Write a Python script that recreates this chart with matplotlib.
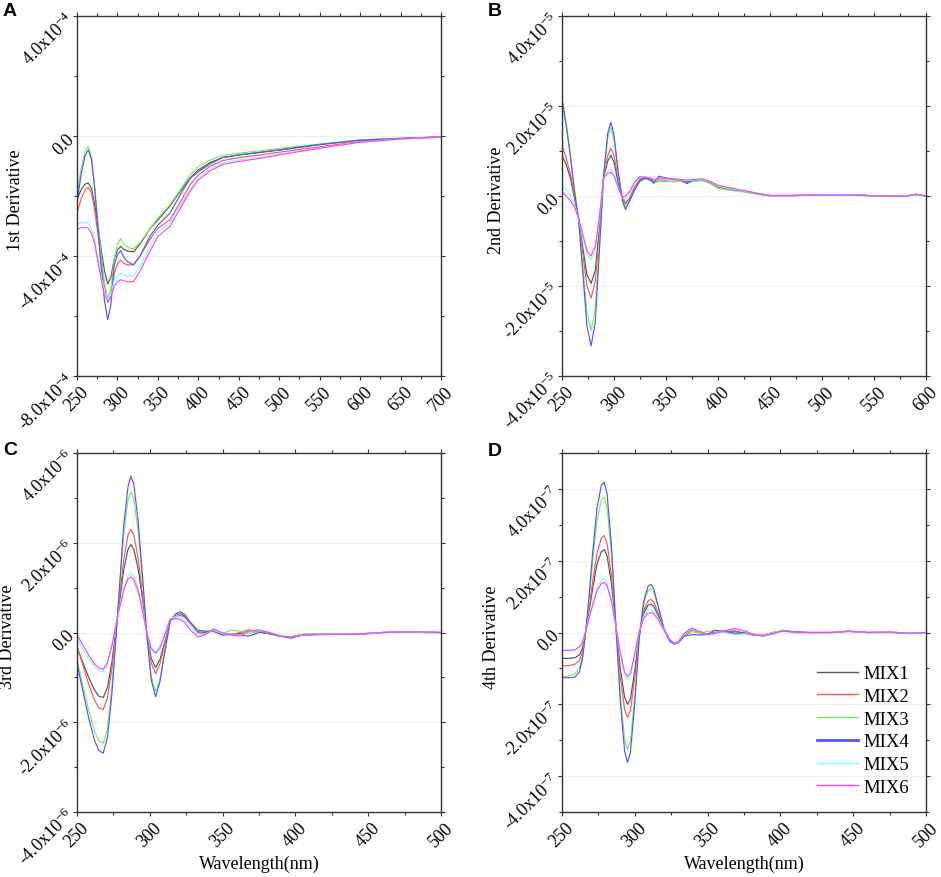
import matplotlib
matplotlib.use("Agg")
import matplotlib.pyplot as plt
from matplotlib.ticker import MultipleLocator, FixedLocator, FixedFormatter

plt.rcParams['font.family'] = ['Liberation Serif', 'DejaVu Serif']
plt.rcParams['mathtext.fontset'] = 'custom'
plt.rcParams['mathtext.rm'] = 'Liberation Serif'
plt.rcParams['mathtext.it'] = 'Liberation Serif:italic'
plt.rcParams['mathtext.default'] = 'regular'

SERIES = ["MIX1", "MIX2", "MIX3", "MIX4", "MIX5", "MIX6"]
COLORS = ["#555555", "#ff5555", "#77ee55", "#5555ff", "#77ffff", "#ff44ff"]

# ---------------- Panel A: 1st derivative (units 1e-4) ----------------
WL_A = [250, 255, 260, 264, 268, 272, 276, 280, 284, 288, 292, 296, 300, 304, 308, 313,
        320, 328, 340, 350, 365, 380, 390, 400, 415, 430, 450, 475, 500, 550, 600, 650, 700]
A_MIX1 = [-2.12, -1.8, -1.6, -1.57, -1.75, -2.3, -3.0, -3.8, -4.5, -4.93, -4.7, -4.1, -3.8, -3.68, -3.78, -3.84,
          -3.86, -3.6, -3.1, -2.8, -2.33, -1.75, -1.4, -1.13, -0.88, -0.72, -0.63, -0.55, -0.47, -0.29, -0.14, -0.08, -0.03]
A_MIX2 = [-2.57, -2.1, -1.8, -1.71, -1.9, -2.5, -3.3, -4.2, -5.0, -5.55, -5.3, -4.6, -4.25, -4.14, -4.25, -4.3,
          -4.29, -4.0, -3.45, -3.08, -2.79, -2.1, -1.62, -1.3, -1.0, -0.82, -0.72, -0.64, -0.54, -0.36, -0.18, -0.09, -0.04]
A_MIX3 = [-1.97, -1.1, -0.5, -0.35, -0.7, -1.7, -2.9, -4.0, -4.9, -5.4, -5.1, -4.1, -3.6, -3.42, -3.6, -3.72,
          -3.76, -3.55, -3.1, -2.74, -2.29, -1.7, -1.29, -1.02, -0.8, -0.65, -0.57, -0.5, -0.41, -0.27, -0.13, -0.07, -0.03]
A_MIX4 = [-2.23, -1.3, -0.65, -0.46, -0.8, -1.8, -3.1, -4.4, -5.5, -6.12, -5.6, -4.3, -3.95, -3.82, -4.05, -4.2,
          -4.29, -4.0, -3.35, -2.97, -2.57, -1.85, -1.4, -1.19, -0.92, -0.72, -0.63, -0.55, -0.46, -0.28, -0.14, -0.08, -0.03]
A_MIX5 = [-2.96, -2.9, -2.88, -2.92, -3.1, -3.5, -4.1, -4.7, -5.2, -5.46, -5.3, -4.8, -4.65, -4.59, -4.65, -4.68,
          -4.65, -4.35, -3.7, -3.2, -2.9, -2.2, -1.79, -1.4, -1.08, -0.9, -0.8, -0.72, -0.6, -0.4, -0.2, -0.1, -0.04]
A_MIX6 = [-3.12, -3.05, -3.05, -3.07, -3.25, -3.6, -4.2, -4.8, -5.3, -5.5, -5.35, -5.0, -4.85, -4.79, -4.83, -4.87,
          -4.85, -4.5, -3.85, -3.35, -3.01, -2.3, -1.84, -1.47, -1.15, -0.95, -0.85, -0.75, -0.63, -0.41, -0.21, -0.1, -0.04]

# ---------------- Panel B: 2nd derivative (units 1e-5) ----------------
WL_B = [250, 254, 258, 262, 266, 270, 274, 278, 282, 286, 290, 294, 297, 300, 304, 308, 311, 315, 320, 325,
        330, 335, 338, 343, 350, 357, 365, 370, 377, 385, 392, 400, 410, 425, 440, 450, 470, 500, 530, 560,
        580, 590, 600]
B_MIX1 = [0.9, 0.7, 0.4, -0.05, -0.5, -1.15, -1.75, -1.94, -1.65, -0.7, 0.4, 0.78, 0.9, 0.75, 0.3, -0.05, -0.18, -0.05, 0.2, 0.37,
          0.4, 0.35, 0.28, 0.34, 0.33, 0.32, 0.33, 0.28, 0.34, 0.35, 0.3, 0.2, 0.15, 0.1, 0.04, 0.01, 0.01, 0.02, 0.02, 0.0,
          0.0, 0.03, 0.0]
B_MIX2 = [1.12, 0.85, 0.5, 0.0, -0.5, -1.3, -2.0, -2.27, -1.9, -0.8, 0.4, 0.9, 1.06, 0.9, 0.4, 0.0, -0.16, -0.05, 0.2, 0.38,
          0.42, 0.38, 0.32, 0.38, 0.38, 0.36, 0.35, 0.33, 0.35, 0.36, 0.3, 0.2, 0.15, 0.1, 0.04, 0.01, 0.01, 0.02, 0.02, 0.0,
          -0.01, 0.04, 0.0]
B_MIX3 = [2.04, 1.55, 0.9, 0.15, -0.5, -1.55, -2.6, -2.99, -2.5, -1.05, 0.45, 1.3, 1.53, 1.25, 0.5, -0.08, -0.25, -0.1, 0.15, 0.33,
          0.38, 0.34, 0.28, 0.35, 0.33, 0.32, 0.32, 0.3, 0.33, 0.34, 0.28, 0.17, 0.13, 0.09, 0.03, 0.0, 0.01, 0.02, 0.01, 0.0,
          0.0, 0.02, 0.0]
B_MIX4 = [2.16, 1.6, 0.9, 0.1, -0.55, -1.7, -2.9, -3.33, -2.8, -1.2, 0.45, 1.4, 1.64, 1.35, 0.55, -0.1, -0.3, -0.12, 0.15, 0.33,
          0.4, 0.36, 0.3, 0.44, 0.4, 0.38, 0.36, 0.3, 0.36, 0.37, 0.32, 0.22, 0.17, 0.11, 0.05, 0.01, 0.01, 0.02, 0.02, 0.0,
          0.0, 0.03, 0.0]
B_MIX5 = [0.25, 0.15, 0.0, -0.2, -0.5, -0.9, -1.3, -1.41, -1.2, -0.5, 0.4, 0.55, 0.6, 0.5, 0.2, -0.05, -0.06, 0.05, 0.3, 0.42,
          0.42, 0.4, 0.35, 0.4, 0.38, 0.37, 0.36, 0.34, 0.36, 0.37, 0.32, 0.22, 0.17, 0.11, 0.05, 0.01, 0.01, 0.02, 0.02, 0.0,
          0.0, 0.03, 0.0]
B_MIX6 = [0.1, 0.0, -0.1, -0.25, -0.5, -0.85, -1.22, -1.33, -1.12, -0.45, 0.4, 0.5, 0.53, 0.45, 0.18, -0.03, 0.0, 0.1, 0.32, 0.43,
          0.42, 0.4, 0.36, 0.4, 0.39, 0.37, 0.37, 0.35, 0.37, 0.38, 0.33, 0.24, 0.19, 0.12, 0.05, 0.01, 0.01, 0.02, 0.02, 0.0,
          -0.01, 0.04, 0.0]

# ---------------- Panel C: 3rd derivative (units 1e-6) ----------------
WL_C = [250, 254, 258, 262, 265, 268, 271, 274, 278, 282, 285, 287, 289, 292, 295, 298, 301, 304, 307, 310,
        314, 318, 321, 324, 328, 333, 338, 344, 350, 356, 362, 368, 375, 382, 390, 397, 405, 415, 430, 445,
        460, 475, 490, 500]
C_MIX1 = [-0.33, -0.67, -1.0, -1.28, -1.42, -1.45, -1.22, -0.65, 0.38, 1.38, 1.85, 1.96, 1.86, 1.42, 0.75, -0.03, -0.58, -0.78, -0.6, -0.25,
          0.27, 0.4, 0.42, 0.36, 0.2, 0.02, 0.0, 0.05, -0.03, -0.04, -0.02, 0.02, 0.03, -0.02, -0.09, -0.1, -0.05, -0.04, -0.04, -0.03,
          0.0, 0.01, 0.0, 0.0]
C_MIX2 = [-0.3, -0.72, -1.15, -1.5, -1.68, -1.72, -1.45, -0.8, 0.4, 1.6, 2.17, 2.3, 2.18, 1.65, 0.85, -0.03, -0.68, -0.92, -0.7, -0.3,
          0.25, 0.36, 0.38, 0.34, 0.2, 0.0, -0.03, 0.07, -0.02, -0.05, 0.0, 0.06, 0.02, -0.03, -0.08, -0.1, -0.04, -0.04, -0.04, -0.03,
          0.0, 0.02, 0.01, 0.0]
C_MIX3 = [-0.62, -1.18, -1.73, -2.2, -2.42, -2.47, -2.13, -1.22, 0.45, 2.15, 2.95, 3.13, 2.98, 2.25, 1.13, -0.07, -0.98, -1.32, -1.02, -0.45,
          0.25, 0.41, 0.44, 0.39, 0.22, 0.04, 0.02, 0.05, -0.02, 0.05, 0.03, -0.02, 0.02, 0.0, -0.07, -0.14, -0.04, -0.03, -0.03, -0.03,
          0.0, 0.01, 0.0, -0.01]
C_MIX4 = [-0.7, -1.3, -1.9, -2.4, -2.63, -2.69, -2.33, -1.35, 0.45, 2.35, 3.24, 3.48, 3.31, 2.49, 1.25, -0.07, -1.06, -1.43, -1.1, -0.5,
          0.25, 0.42, 0.46, 0.4, 0.22, 0.05, 0.03, 0.02, -0.06, -0.04, -0.06, -0.08, 0.0, -0.02, -0.08, -0.12, -0.06, -0.05, -0.04, -0.04,
          0.0, 0.01, 0.01, 0.0]
C_MIX5 = [-0.15, -0.37, -0.58, -0.76, -0.85, -0.87, -0.7, -0.3, 0.38, 0.98, 1.26, 1.32, 1.26, 0.98, 0.52, -0.02, -0.38, -0.5, -0.38, -0.1,
          0.3, 0.35, 0.33, 0.28, 0.12, -0.05, -0.03, 0.05, -0.02, -0.05, -0.07, 0.02, 0.05, 0.0, -0.07, -0.1, -0.05, -0.04, -0.04, -0.03,
          0.0, 0.01, 0.01, 0.0]
C_MIX6 = [-0.05, -0.28, -0.5, -0.7, -0.79, -0.82, -0.66, -0.28, 0.38, 0.93, 1.19, 1.24, 1.18, 0.92, 0.48, -0.02, -0.35, -0.45, -0.33, -0.07,
          0.3, 0.31, 0.29, 0.22, 0.05, -0.1, -0.05, 0.08, -0.01, -0.06, -0.08, 0.03, 0.06, 0.0, -0.08, -0.1, -0.05, -0.04, -0.04, -0.03,
          0.0, 0.01, 0.01, 0.0]

# ---------------- Panel D: 4th derivative (units 1e-7) ----------------
WL_D = [250, 255, 259, 262, 264, 266, 268, 271, 274, 277, 279, 281, 284, 287, 290, 293, 295, 297, 300, 303,
        306, 309, 311, 313, 316, 320, 324, 327, 330, 334, 339, 345, 350, 355, 362, 369, 376, 382, 388, 395,
        402, 410, 420, 435, 447, 460, 475, 490, 500]
D_MIX1 = [-0.72, -0.72, -0.7, -0.62, -0.45, -0.02, 0.45, 1.2, 1.9, 2.25, 2.31, 2.13, 1.35, 0.18, -1.0, -1.8, -2.0, -1.85, -1.05, -0.05,
          0.52, 0.76, 0.79, 0.73, 0.48, 0.1, -0.2, -0.32, -0.28, -0.08, 0.08, 0.0, -0.04, 0.0, 0.04, 0.04, -0.02, -0.07, -0.08, 0.0,
          0.05, 0.01, 0.0, 0.0, 0.03, 0.0, 0.01, -0.03, 0.0]
D_MIX2 = [-0.93, -0.92, -0.88, -0.78, -0.55, -0.05, 0.5, 1.4, 2.2, 2.63, 2.7, 2.48, 1.57, 0.18, -1.2, -2.15, -2.37, -2.18, -1.25, -0.08,
          0.6, 0.88, 0.92, 0.85, 0.55, 0.12, -0.2, -0.32, -0.28, -0.1, 0.08, 0.0, -0.05, 0.0, 0.05, 0.03, -0.03, -0.08, -0.08, 0.0,
          0.06, 0.0, 0.0, 0.0, 0.03, 0.0, 0.01, -0.02, 0.0]
D_MIX3 = [-1.23, -1.21, -1.15, -0.98, -0.68, -0.1, 0.65, 1.95, 3.1, 3.68, 3.77, 3.47, 2.17, 0.2, -1.7, -2.98, -3.27, -3.02, -1.75, -0.15,
          0.78, 1.17, 1.22, 1.12, 0.7, 0.12, -0.22, -0.32, -0.28, -0.1, 0.02, -0.02, 0.03, 0.06, 0.0, -0.05, -0.03, -0.05, -0.08, 0.0,
          0.06, 0.02, -0.01, 0.0, 0.03, 0.0, 0.01, -0.02, 0.0]
D_MIX4 = [-1.26, -1.26, -1.24, -1.1, -0.75, -0.1, 0.75, 2.2, 3.45, 4.1, 4.19, 3.85, 2.4, 0.2, -1.9, -3.3, -3.62, -3.35, -1.95, -0.2,
          0.85, 1.28, 1.34, 1.22, 0.75, 0.1, -0.25, -0.32, -0.28, -0.1, -0.06, -0.07, -0.05, 0.06, 0.03, -0.02, 0.0, -0.05, -0.1, -0.04,
          0.05, 0.02, 0.0, 0.0, 0.04, 0.0, 0.0, -0.02, 0.0]
D_MIX5 = [-0.49, -0.49, -0.47, -0.4, -0.28, 0.0, 0.32, 0.8, 1.24, 1.46, 1.5, 1.38, 0.9, 0.17, -0.6, -1.18, -1.32, -1.22, -0.65, 0.02,
          0.42, 0.61, 0.64, 0.59, 0.4, 0.08, -0.2, -0.3, -0.26, -0.05, 0.1, 0.02, -0.06, -0.02, 0.05, 0.08, 0.02, -0.06, -0.1, -0.02,
          0.04, 0.0, 0.0, 0.0, 0.04, 0.0, 0.01, -0.02, 0.0]
D_MIX6 = [-0.5, -0.5, -0.48, -0.4, -0.28, 0.0, 0.3, 0.75, 1.15, 1.36, 1.4, 1.3, 0.85, 0.17, -0.55, -1.1, -1.23, -1.13, -0.6, 0.03,
          0.38, 0.53, 0.56, 0.52, 0.36, 0.06, -0.2, -0.3, -0.25, -0.02, 0.12, 0.03, -0.06, -0.03, 0.05, 0.11, 0.04, -0.06, -0.1, -0.02,
          0.04, 0.0, 0.0, 0.0, 0.04, 0.0, 0.01, -0.02, 0.0]

PANELS = [
    dict(letter="A", wl=WL_A, data=[A_MIX1, A_MIX2, A_MIX3, A_MIX4, A_MIX5, A_MIX6], scale=1e-4,
         xlim=(250, 700), ylim=(-8, 4), yticks=[-8, -4, 0, 4], exp=-4, ylabel="1st Derivative",
         rect=[77, 17, 441, 377], ylab_x=-0.146, xlabel=None, letter_y=3),
    dict(letter="B", wl=WL_B, data=[B_MIX1, B_MIX2, B_MIX3, B_MIX4, B_MIX5, B_MIX6], scale=1e-5,
         xlim=(250, 600), ylim=(-4, 4), yticks=[-4, -2, 0, 2, 4], exp=-5, ylabel="2nd Derivative",
         rect=[562, 17, 926, 377], ylab_x=-0.157, xlabel=None, letter_y=3),
    dict(letter="C", wl=WL_C, data=[C_MIX1, C_MIX2, C_MIX3, C_MIX4, C_MIX5, C_MIX6], scale=1e-6,
         xlim=(250, 500), ylim=(-4, 4), yticks=[-4, -2, 0, 2, 4], exp=-6, ylabel="3rd Derivative",
         rect=[77, 454, 441, 813], ylab_x=-0.168, xlabel="Wavelength(nm)", letter_y=442),
    dict(letter="D", wl=WL_D, data=[D_MIX1, D_MIX2, D_MIX3, D_MIX4, D_MIX5, D_MIX6], scale=1e-7,
         xlim=(250, 500), ylim=(-5, 5), yticks=[-4, -2, 0, 2, 4], exp=-7, ylabel="4th Derivative",
         rect=[562, 454, 926, 813], ylab_x=-0.170, xlabel="Wavelength(nm)", letter_y=443),
]

W, H = 941, 878
fig = plt.figure(figsize=(W / 100, H / 100), dpi=100)

SPINE = "#333333"
FS = 13

for p in PANELS:
    x0, y0, x1, y1 = p["rect"]
    ax = fig.add_axes([x0 / W, 1 - y1 / H, (x1 - x0) / W, (y1 - y0) / H])
    sc = p["scale"]
    for name, col, vals in zip(SERIES, COLORS, p["data"]):
        ax.plot(p["wl"], [v * sc for v in vals], color=col, lw=0.85, label=name)
    ax.set_xlim(*p["xlim"])
    ax.set_ylim(p["ylim"][0] * sc, p["ylim"][1] * sc)
    ax.xaxis.set_major_locator(MultipleLocator(50))
    ax.xaxis.set_minor_locator(MultipleLocator(25))
    yt = [v * sc for v in p["yticks"]]
    ax.yaxis.set_major_locator(FixedLocator(yt))
    step = (p["yticks"][1] - p["yticks"][0]) / 2
    minors = []
    v = p["ylim"][0]
    while v <= p["ylim"][1] + 1e-9:
        minors.append(v * sc)
        v += step
    ax.yaxis.set_minor_locator(FixedLocator(minors))
    labels = []
    for t in p["yticks"]:
        if t == 0:
            labels.append("0.0")
        else:
            labels.append("%.1fx10$^{%d}$" % (t, p["exp"]))
    ax.yaxis.set_major_formatter(FixedFormatter(labels))
    ax.yaxis.grid(True, which="major", color="#eeeeee", lw=0.8)
    ax.set_axisbelow(True)
    for s in ax.spines.values():
        s.set_color(SPINE)
        s.set_linewidth(1.0)
    ax.tick_params(which="both", direction="out", top=True, right=True, colors=SPINE,
                   labelcolor="black", labelsize=FS)
    ax.tick_params(which="major", length=3, width=0.8)
    ax.tick_params(which="minor", length=2, width=0.8)
    ax.tick_params(axis="y", pad=1)
    ax.tick_params(axis="x", pad=2)
    for lab in ax.get_yticklabels():
        lab.set_rotation(45)
        lab.set_rotation_mode("anchor")
        lab.set_ha("right")
        lab.set_va("center")
    for lab in ax.get_xticklabels():
        lab.set_rotation(45)
        lab.set_ha("center")
    ax.set_ylabel(p["ylabel"], fontsize=FS)
    ax.yaxis.set_label_coords(p["ylab_x"], 0.49)
    if p["xlabel"]:
        ax.set_xlabel(p["xlabel"], fontsize=FS)
        ax.xaxis.set_label_coords(0.5, -0.118)
        ax.xaxis.label.set_va("top")
    fig.text((x0 - 74) / W, 1 - p["letter_y"] / H, p["letter"], fontsize=14, fontweight="bold",
             family=["Liberation Sans", "DejaVu Sans"], ha="left", va="top")
    if p["letter"] == "D":
        leg = ax.legend(frameon=False, loc="lower left", bbox_to_anchor=(0.70, 0.045),
                        handlelength=2.2, handletextpad=0.3, labelspacing=0.3,
                        borderpad=0, borderaxespad=0, fontsize=13.5)
        for i, ln in enumerate(leg.get_lines()):
            ln.set_linewidth(2.0 if i == 3 else 1.0)

fig.savefig("out.png", dpi=100)
